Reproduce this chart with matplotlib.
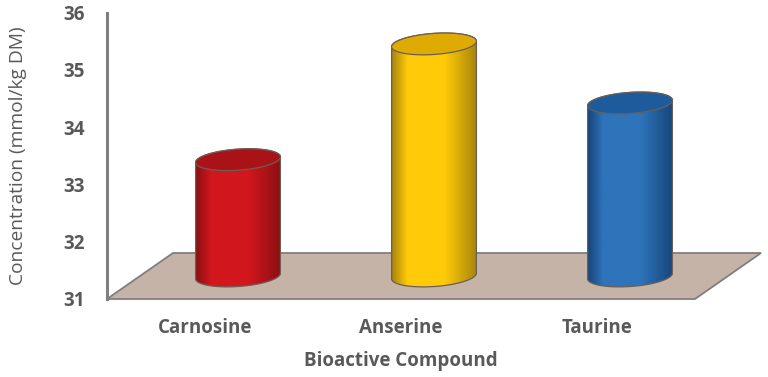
import numpy as np
import matplotlib
matplotlib.use("Agg")
import matplotlib.pyplot as plt
from matplotlib.patches import Polygon
from matplotlib.colors import LinearSegmentedColormap

# ---- data ----
categories = ["Carnosine", "Anserine", "Taurine"]
values = [33.03, 35.05, 34.02]
y_ticks = [31, 32, 33, 34, 35, 36]
x_label = "Bioactive Compound"
y_label = "Concentration (mmol/kg DM)"

# ---- style ----
edge_cols = ["#8c0f13", "#a8850c", "#17457c"]
mid_cols = ["#d2171d", "#ffca08", "#2e74ba"]
top_cols = ["#a91317", "#dfaa02", "#1d5b9d"]
text_col = "#595959"
floor_col = "#c5b3a7"
line_col = "#7f7f7f"

plt.rcParams['font.family'] = ['Open Sans', 'DejaVu Sans']

W_PX, H_PX = 768, 377
fig = plt.figure(figsize=(W_PX / 100, H_PX / 100), dpi=100)
left_px, right_px, bot_px, top_px = 107, 695, 299, 12.5
ax = fig.add_axes([left_px / W_PX, (H_PX - bot_px) / H_PX,
                   (right_px - left_px) / W_PX, (bot_px - top_px) / H_PX])
ymin, ymax = y_ticks[0], y_ticks[-1]
n = len(categories)
xlo, xhi = -0.5, n - 0.5
ax.set_xlim(xlo, xhi)
ax.set_ylim(ymin, ymax)

sx = (right_px - left_px) / (xhi - xlo)     # px per x unit
sy = (bot_px - top_px) / (ymax - ymin)      # px per y unit

# depth offsets (px) of the floor back edge
depth_dx, depth_dy = 66 / sx, 46 / sy

# floor
floor = Polygon([(xlo, ymin), (xhi, ymin), (xhi + depth_dx, ymin + depth_dy),
                 (xlo + depth_dx, ymin + depth_dy)], closed=True,
                facecolor=floor_col, edgecolor=line_col, lw=1.3,
                clip_on=False, zorder=1)
ax.add_patch(floor)

# cylinders
a_px, b_px, theta = 42.5, 10.5, np.deg2rad(4.0)


def ellipse_pts(cx, cy, phis):
    ex = a_px * np.cos(phis) * np.cos(theta) - b_px * np.sin(phis) * np.sin(theta)
    ey = a_px * np.cos(phis) * np.sin(theta) + b_px * np.sin(phis) * np.cos(theta)
    return np.column_stack([cx + ex / sx, cy + ey / sy])


for i, (cat, v) in enumerate(zip(categories, values)):
    cx = i + depth_dx / 2
    yb = ymin + depth_dy / 2
    yt = v + depth_dy / 2
    lower = ellipse_pts(cx, yb, np.linspace(np.pi, 2 * np.pi, 80))
    upper = ellipse_pts(cx, yt, np.linspace(0, np.pi, 80))
    body_pts = np.vstack([lower, upper])
    body = Polygon(body_pts, closed=True, facecolor="none",
                   edgecolor="#6b5e55", lw=0.9, zorder=4)
    ax.add_patch(body)
    cmap = LinearSegmentedColormap.from_list(
        f"c{i}", [(0, edge_cols[i]), (0.18, mid_cols[i]), (0.62, mid_cols[i]),
                  (1.0, edge_cols[i])])
    grad = np.linspace(0, 1, 256)[None, :]
    hw = a_px / sx
    im = ax.imshow(grad, extent=[cx - hw, cx + hw, yb - 2 * b_px / sy, yt + 2 * b_px / sy],
                   aspect='auto', cmap=cmap, zorder=3, interpolation='bilinear')
    im.set_clip_path(body)
    top = Polygon(ellipse_pts(cx, yt, np.linspace(0, 2 * np.pi, 160)), closed=True,
                  facecolor=top_cols[i], edgecolor="#6b5e55", lw=0.9, zorder=5)
    ax.add_patch(top)

ax.set_xlim(xlo, xhi)
ax.set_ylim(ymin, ymax)

for s in ["top", "right", "bottom"]:
    ax.spines[s].set_visible(False)
ax.spines["left"].set_color(line_col)
ax.spines["left"].set_linewidth(2.2)
ax.spines["left"].set_zorder(2)

ax.set_yticks(y_ticks)
ax.set_yticklabels([str(t) for t in y_ticks])
ax.set_xticks(range(n))
ax.set_xticklabels(categories)
ax.tick_params(axis='y', length=0, pad=16, labelsize=13.5, labelcolor=text_col)
ax.tick_params(axis='x', length=0, pad=14, labelsize=13.5, labelcolor=text_col)
for lab in ax.get_yticklabels() + ax.get_xticklabels():
    lab.set_fontweight('bold')

ax.set_xlabel(x_label, fontsize=13.5, fontweight='bold', color=text_col)
ax.xaxis.set_label_coords(0.5, -0.18)
ax.set_ylabel(y_label, fontsize=13.8, color=text_col)
ax.yaxis.set_label_coords(-0.136, 0.5)
ax.patch.set_visible(False)

fig.savefig("out.png", dpi=100, facecolor="white")
